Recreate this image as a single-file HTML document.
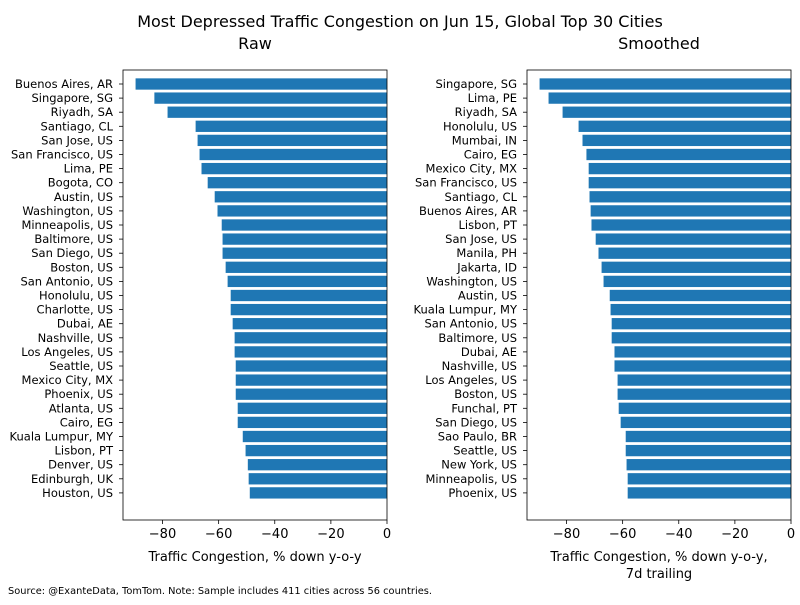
<!DOCTYPE html>
<html><head><meta charset="utf-8"><style>
body{margin:0;background:#fff;}
svg text{font-family:"DejaVu Sans","Liberation Sans",sans-serif;fill:#000;}
</style></head><body>
<svg id="chart" width="800" height="600" xmlns="http://www.w3.org/2000/svg">
<text x="400" y="27" font-size="16" text-anchor="middle">Most Depressed Traffic Congestion on Jun 15, Global Top 30 Cities</text>
<text x="8" y="594" font-size="9.8" textLength="424">Source: @ExanteData, TomTom.   Note: Sample includes 411 cities across 56 countries.</text>
</svg>
<script>
const rawCities=["Buenos Aires, AR","Singapore, SG","Riyadh, SA","Santiago, CL","San Jose, US","San Francisco, US","Lima, PE","Bogota, CO","Austin, US","Washington, US","Minneapolis, US","Baltimore, US","San Diego, US","Boston, US","San Antonio, US","Honolulu, US","Charlotte, US","Dubai, AE","Nashville, US","Los Angeles, US","Seattle, US","Mexico City, MX","Phoenix, US","Atlanta, US","Cairo, EG","Kuala Lumpur, MY","Lisbon, PT","Denver, US","Edinburgh, UK","Houston, US"];
const rawValues=[-89.6,-82.9,-78.2,-68.2,-67.5,-66.8,-66.1,-63.9,-61.4,-60.4,-58.9,-58.6,-58.6,-57.5,-56.8,-55.7,-55.7,-55.0,-54.3,-54.3,-53.9,-53.9,-53.9,-53.2,-53.2,-51.4,-50.4,-49.6,-49.3,-48.9];
const smCities=["Singapore, SG","Lima, PE","Riyadh, SA","Honolulu, US","Mumbai, IN","Cairo, EG","Mexico City, MX","San Francisco, US","Santiago, CL","Buenos Aires, AR","Lisbon, PT","San Jose, US","Manila, PH","Jakarta, ID","Washington, US","Austin, US","Kuala Lumpur, MY","San Antonio, US","Baltimore, US","Dubai, AE","Nashville, US","Los Angeles, US","Boston, US","Funchal, PT","San Diego, US","Sao Paulo, BR","Seattle, US","New York, US","Minneapolis, US","Phoenix, US"];
const smValues=[-89.6,-86.4,-81.4,-75.7,-74.3,-72.9,-72.1,-72.1,-71.8,-71.4,-71.1,-69.6,-68.6,-67.5,-66.8,-64.6,-64.3,-63.9,-63.9,-62.9,-62.9,-61.8,-61.8,-61.4,-60.7,-58.9,-58.9,-58.6,-58.2,-58.2];
const xTicks=[-80,-60,-40,-20,0];
const NS="http://www.w3.org/2000/svg";
const svg=document.getElementById('chart');
function mk(tag,attrs,parent){const e=document.createElementNS(NS,tag);for(const k in attrs)e.setAttribute(k,attrs[k]);(parent||svg).appendChild(e);return e;}
function panel(name,left,right,cities,values,title,xl1,xl2){
  const top=70,bottom=520;
  const minV=Math.min(...values)*1.05;
  const x=v=>left+(v-minV)/(0-minV)*(right-left);
  const y=i=>84+i*14.1;
  const g=mk('g',{});
  
  
  const t=mk('text',{x:(left+right)/2,y:49,'font-size':16,'text-anchor':'middle'},g);t.textContent=title;
  
  
  values.forEach((v,i)=>{
    const r=mk('rect',{x:x(v),y:y(i)-5.65,width:x(0)-x(v),height:11.3,fill:'#1f77b4'},g);
    
    
    const lb=mk('text',{x:left-10,y:y(i)+4,'font-size':11.5,'text-anchor':'end'},g);lb.textContent=cities[i];
    
    
    mk('line',{x1:left-4,x2:left,y1:y(i),y2:y(i),stroke:'#000','stroke-width':0.8},g);
  });
  const fr=mk('rect',{x:left,y:top,width:right-left,height:bottom-top,fill:'none',stroke:'#000','stroke-width':0.8},g);
  
  
  xTicks.forEach(tv=>{
    mk('line',{x1:x(tv),x2:x(tv),y1:bottom,y2:bottom+4,stroke:'#000','stroke-width':0.8},g);
    const tt=mk('text',{x:x(tv),y:bottom+18,'font-size':13,'text-anchor':'middle'},g);tt.textContent=(tv<0?'\u2212'+(-tv):tv);
    
    
  });
  const a=mk('text',{x:(left+right)/2,y:561,'font-size':13,'text-anchor':'middle'},g);a.textContent=xl1;
  
  
  if(xl2){const b=mk('text',{x:(left+right)/2,y:578,'font-size':13,'text-anchor':'middle'},g);b.textContent=xl2;
    
    }
}
panel('raw',123,387,rawCities,rawValues,'Raw','Traffic Congestion, % down y-o-y',null);
panel('smoothed',527,791,smCities,smValues,'Smoothed','Traffic Congestion, % down y-o-y,','7d trailing');
</script>
</body></html>
